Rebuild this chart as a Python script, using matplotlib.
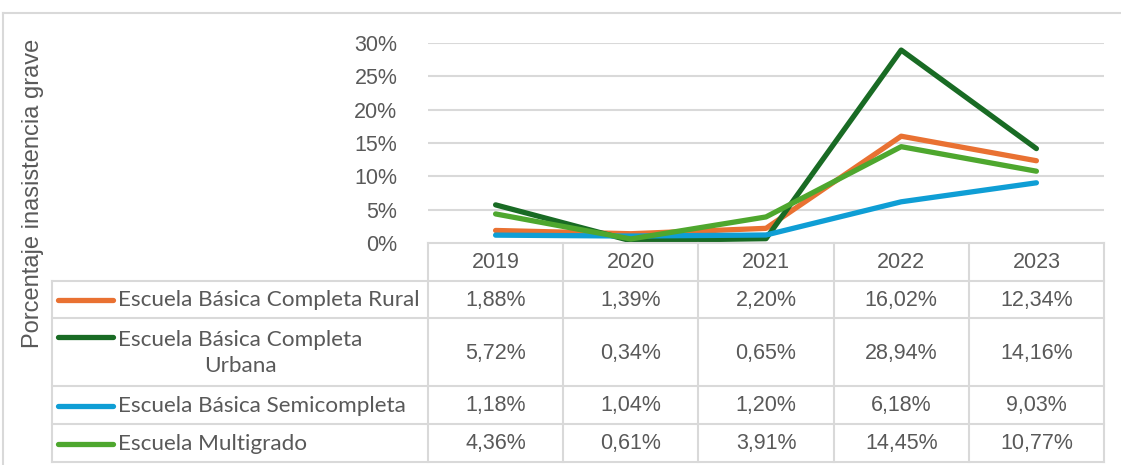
import matplotlib
matplotlib.use("Agg")
import matplotlib.pyplot as plt
from matplotlib.lines import Line2D
from matplotlib.ticker import PercentFormatter

years = ["2019", "2020", "2021", "2022", "2023"]
series_names = [
    "Escuela Básica Completa Rural",
    "Escuela Básica Completa\nUrbana",
    "Escuela Básica Semicompleta",
    "Escuela Multigrado",
]
rural = [1.88, 1.39, 2.20, 16.02, 12.34]
urbana = [5.72, 0.34, 0.65, 28.94, 14.16]
semicompleta = [1.18, 1.04, 1.20, 6.18, 9.03]
multigrado = [4.36, 0.61, 3.91, 14.45, 10.77]
all_values = [rural, urbana, semicompleta, multigrado]
colors = ["#E97132", "#196B24", "#0F9ED5", "#4EA72E"]
yticks = [0, 5, 10, 15, 20, 25, 30]

W, H = 1121, 465
fig = plt.figure(figsize=(W / 100, H / 100), dpi=100)
TXT = "#595959"
GRID = "#d9d9d9"
NUMFONT = "Liberation Sans"
LBLFONT = "Lato"
NUMSIZE = 15.5

def fbox(x0, y0, x1, y1):
    return [x0 / W, 1 - y1 / H, (x1 - x0) / W, (y1 - y0) / H]

# outer border
fig.add_artist(Line2D([3 / W, 3 / W], [0, 1 - 13 / H], color=GRID, lw=1.5))
fig.add_artist(Line2D([3 / W, 1], [1 - 13 / H, 1 - 13 / H], color=GRID, lw=1.5))

# chart axes
x0c, x1c, ytop, ybot = 428, 1104, 43, 243
ax = fig.add_axes(fbox(x0c, ytop, x1c, ybot))
ax.set_xlim(0, len(years))
ax.set_ylim(0, 30)
for s in ax.spines.values():
    s.set_visible(False)
ax.set_yticks(yticks)
ax.yaxis.set_major_formatter(PercentFormatter(decimals=0))
ax.tick_params(axis="y", length=0, pad=22, labelsize=NUMSIZE, labelcolor=TXT)
for lbl in ax.get_yticklabels():
    lbl.set_fontfamily(NUMFONT)
ax.set_xticks([])
for v in yticks[1:]:
    ax.axhline(v, color=GRID, lw=1.5, zorder=0)
ax.patch.set_alpha(0)
xs = [i + 0.5 for i in range(len(years))]
for vals, c in zip(all_values, colors):
    ax.plot(xs, vals, color=c, lw=3.8, solid_capstyle="round",
            solid_joinstyle="round", clip_on=False, zorder=3)

# y label
fig.text(33 / W, 1 - 193 / H, "Porcentaje inasistencia grave", rotation=90,
         ha="center", va="center", fontsize=17, color=TXT, family=NUMFONT)

# table axes
colw = (x1c - x0c) / len(years)
left_units = -(x0c - 52) / colw
tb = fig.add_axes(fbox(52, 243, 1104, 462))
tb.set_xlim(left_units, len(years))
tb.set_ylim(462, 243)
tb.axis("off")
rows = [243, 281, 318, 386, 424, 462]
lkw = dict(color=GRID, lw=1.5, clip_on=False, solid_capstyle="projecting")
tb.plot([0, len(years)], [rows[0], rows[0]], **lkw)
for r in rows[1:]:
    tb.plot([left_units, len(years)], [r, r], **lkw)
for i in range(len(years) + 1):
    tb.plot([i, i], [rows[0], rows[-1]], **lkw)
tb.plot([left_units, left_units], [rows[1], rows[-1]], **lkw)

for i, y in enumerate(years):
    tb.text(i + 0.5, (rows[0] + rows[1]) / 2 + 1, y, ha="center", va="center",
            fontsize=NUMSIZE, color=TXT, family=NUMFONT)

lx0 = (58 - x0c) / colw
lx1 = (113 - x0c) / colw
tx = (118 - x0c) / colw
for k, (name, vals, c) in enumerate(zip(series_names, all_values, colors)):
    rt, rb = rows[k + 1], rows[k + 2]
    yc = (rt + rb) / 2 + 1
    if "\n" in name:
        ly = rt + 19
        tb.text(tx, yc, name, ha="left", va="center", multialignment="center",
                fontsize=16.2, color=TXT, family=LBLFONT, linespacing=1.4)
    else:
        ly = yc
        tb.text(tx, yc, name, ha="left", va="center", fontsize=16.2,
                color=TXT, family=LBLFONT)
    tb.plot([lx0, lx1], [ly, ly], color=c, lw=3.8, solid_capstyle="round",
            clip_on=False)
    for i, v in enumerate(vals):
        s = f"{v:.2f}".replace(".", ",") + "%"
        tb.text(i + 0.5, yc, s, ha="center", va="center", fontsize=NUMSIZE,
                color=TXT, family=NUMFONT)

fig.savefig("out.png", dpi=100)
